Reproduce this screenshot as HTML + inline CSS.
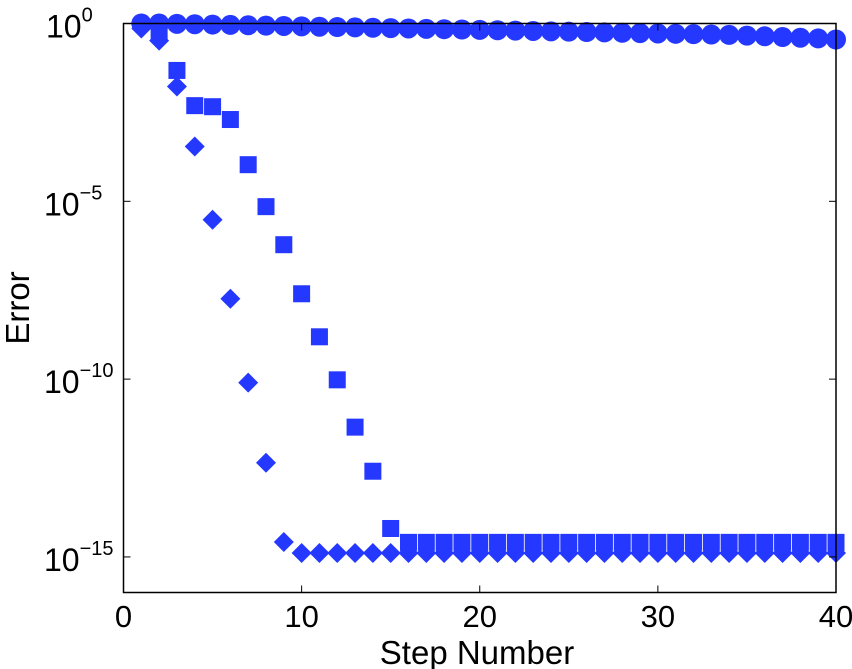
<!DOCTYPE html>
<html><head><meta charset="utf-8"><style>
html,body{margin:0;padding:0;background:#fff;}
svg{display:block;font-family:"Liberation Sans",Arial,sans-serif;}
</style></head><body>
<svg id="chart" width="852" height="669">
<g id="marks"></g>
<g id="axes"></g>
</svg>
<script>
const xTicks = [0, 10, 20, 30, 40];
const yTickExps = [0, -5, -10, -15];
const circleLog = [0.0,0.0,-0.01,-0.02,-0.03,-0.04,-0.05,-0.06,-0.07,-0.08,-0.09,-0.1,-0.11,-0.12,-0.13,-0.14,-0.15,-0.16,-0.17,-0.18,-0.19,-0.2,-0.21,-0.22,-0.23,-0.24,-0.25,-0.26,-0.27,-0.28,-0.29,-0.3,-0.31,-0.32,-0.34,-0.36,-0.38,-0.4,-0.42,-0.45];
const squareLog = [null,-0.28,-1.32,-2.31,-2.34,-2.70,-3.97,-5.15,-6.22,-7.60,-8.81,-10.02,-11.35,-12.59,-14.2,-14.59,-14.59,-14.59,-14.59,-14.59,-14.59,-14.59,-14.59,-14.59,-14.59,-14.59,-14.59,-14.59,-14.59,-14.59,-14.59,-14.59,-14.59,-14.59,-14.59,-14.59,-14.59,-14.59,-14.59,-14.59];
const diamondLog = [-0.14,-0.48,-1.77,-3.46,-5.52,-7.74,-10.1,-12.35,-14.58,-14.89,-14.89,-14.89,-14.89,-14.89,-14.89,-14.89,-14.89,-14.89,-14.89,-14.89,-14.89,-14.89,-14.89,-14.89,-14.89,-14.89,-14.89,-14.89,-14.89,-14.89,-14.89,-14.89,-14.89,-14.89,-14.89,-14.89,-14.89,-14.89,-14.89,-14.89];

const L=123.5,R=836,T=23.5,B=592.5;
const X = v => L + (v-0)/(40-0)*(R-L);
const Y = e => T + (0-e)/16*(B-T);
const NS='http://www.w3.org/2000/svg';
const marks=document.getElementById('marks'), axes=document.getElementById('axes');
const C='#2438ff';
function mk(tag,attrs,parent){const e=document.createElementNS(NS,tag);for(const k in attrs)e.setAttribute(k,attrs[k]);parent.appendChild(e);return e;}

const box=mk('rect',{x:L,y:T,width:R-L,height:B-T,fill:'none',stroke:'#000','stroke-width':1.5},axes);



xTicks.forEach(v=>{
  const x=X(v);
  const t1=mk('line',{x1:x,x2:x,y1:B,y2:B-7,stroke:'#000','stroke-width':1},axes);
  
  
  mk('line',{x1:x,x2:x,y1:T,y2:T+7,stroke:'#000','stroke-width':1},axes);
  const lb=mk('text',{x:x,y:627,'text-anchor':'middle','font-size':31,fill:'#000'},axes);
  lb.textContent=v;
  
  
});
yTickExps.forEach(e=>{
  const y=Y(e);
  const t1=mk('line',{x1:L,x2:L+7,y1:y,y2:y,stroke:'#000','stroke-width':1},axes);
  
  
  mk('line',{x1:R,x2:R-7,y1:y,y2:y,stroke:'#000','stroke-width':1},axes);
  const lb=mk('text',{x:e===0?46:44,y:y+14,'font-size':32,fill:'#000'},axes);
  
  
  const a=mk('tspan',{},lb);a.textContent='10';
  const b=mk('tspan',{dy:-16,'font-size':20},lb);b.textContent=e===0?'0':'\u2212'+(-e);
});
const xl=mk('text',{x:477,y:664,'text-anchor':'middle','font-size':33,fill:'#000'},axes);
xl.textContent='Step Number';


const yl=mk('text',{x:0,y:0,'text-anchor':'middle','font-size':33,fill:'#000',transform:'translate(29,308) rotate(-90)'},axes);
yl.textContent='Error';



squareLog.forEach((e,i)=>{
  if(e===null)return;
  const x=X(i+1),y=Y(e);
  const s=mk('rect',{x:x-8.5,y:y-8.5,width:17,height:17,fill:C},marks);
  
  
});
diamondLog.forEach((e,i)=>{
  const x=X(i+1),y=Y(e),r=10;
  const d=mk('polygon',{points:`${x},${y-r} ${x+r},${y} ${x},${y+r} ${x-r},${y}`,fill:C},marks);
  
  
});
circleLog.forEach((e,i)=>{
  const c=mk('circle',{cx:X(i+1),cy:Y(e),r:10,fill:C},marks);
  
  
});
</script>
</body></html>
